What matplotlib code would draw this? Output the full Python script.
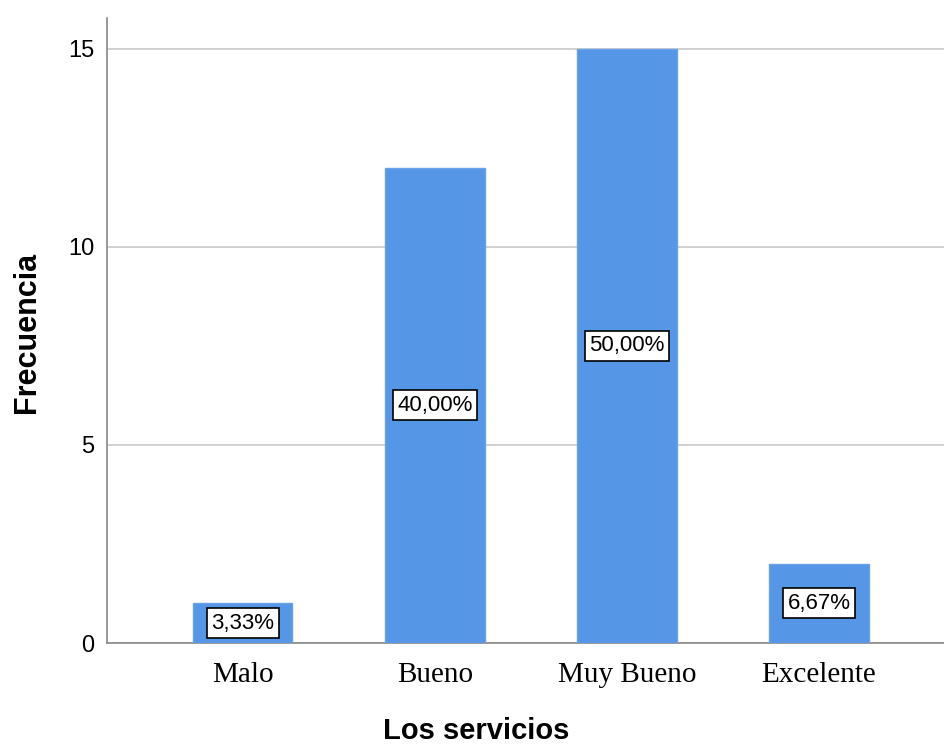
import matplotlib.pyplot as plt

# Data
categories = ['Malo', 'Bueno', 'Muy Bueno', 'Excelente']
frecuencia = [1, 12, 15, 2]
porcentajes = ['3,33%', '40,00%', '50,00%', '6,67%']

fig = plt.figure(figsize=(9.45, 7.45), dpi=100)
ax = fig.add_axes([0.1132, 0.1369, 0.8868, 0.8389])

x = range(len(categories))
ax.bar(x, frecuencia, width=0.516, color='#5596e6', edgecolor='#6aa3ea', linewidth=1, zorder=3)

for xi, h, p in zip(x, frecuencia, porcentajes):
    ax.text(xi, h / 2, p, ha='center', va='center', fontsize=16,
            family='Liberation Sans', zorder=4,
            bbox=dict(boxstyle='square,pad=0.2', facecolor='white', edgecolor='black', linewidth=1.2))

ax.set_xlim(-0.708, 3.656)
ax.set_ylim(0, 15.78)
ax.set_yticks([0, 5, 10, 15])
ax.set_xticks(list(x))
ax.set_xticklabels(categories, family='Liberation Serif', fontsize=21)
for lbl in ax.get_yticklabels():
    lbl.set_family('Liberation Sans')
    lbl.set_fontsize(17)
ax.tick_params(axis='both', length=0)
ax.tick_params(axis='y', pad=9)
ax.tick_params(axis='x', pad=14)

ax.grid(axis='y', color='#c8c8c8', linewidth=1.2, zorder=0)
ax.spines['top'].set_visible(False)
ax.spines['right'].set_visible(False)
ax.spines['left'].set_color('#888888')
ax.spines['bottom'].set_color('#888888')
ax.spines['left'].set_linewidth(1.2)
ax.spines['bottom'].set_linewidth(1.2)

ax.set_xlabel('Los servicios', family='Liberation Sans', fontweight='bold', fontsize=21, va='center')
ax.set_ylabel('Frecuencia', family='Liberation Sans', fontweight='bold', fontsize=22, va='center')
ax.xaxis.set_label_coords(0.44, -0.141)
ax.yaxis.set_label_coords(-0.0955, 0.497)

fig.savefig('out.png', dpi=100)
